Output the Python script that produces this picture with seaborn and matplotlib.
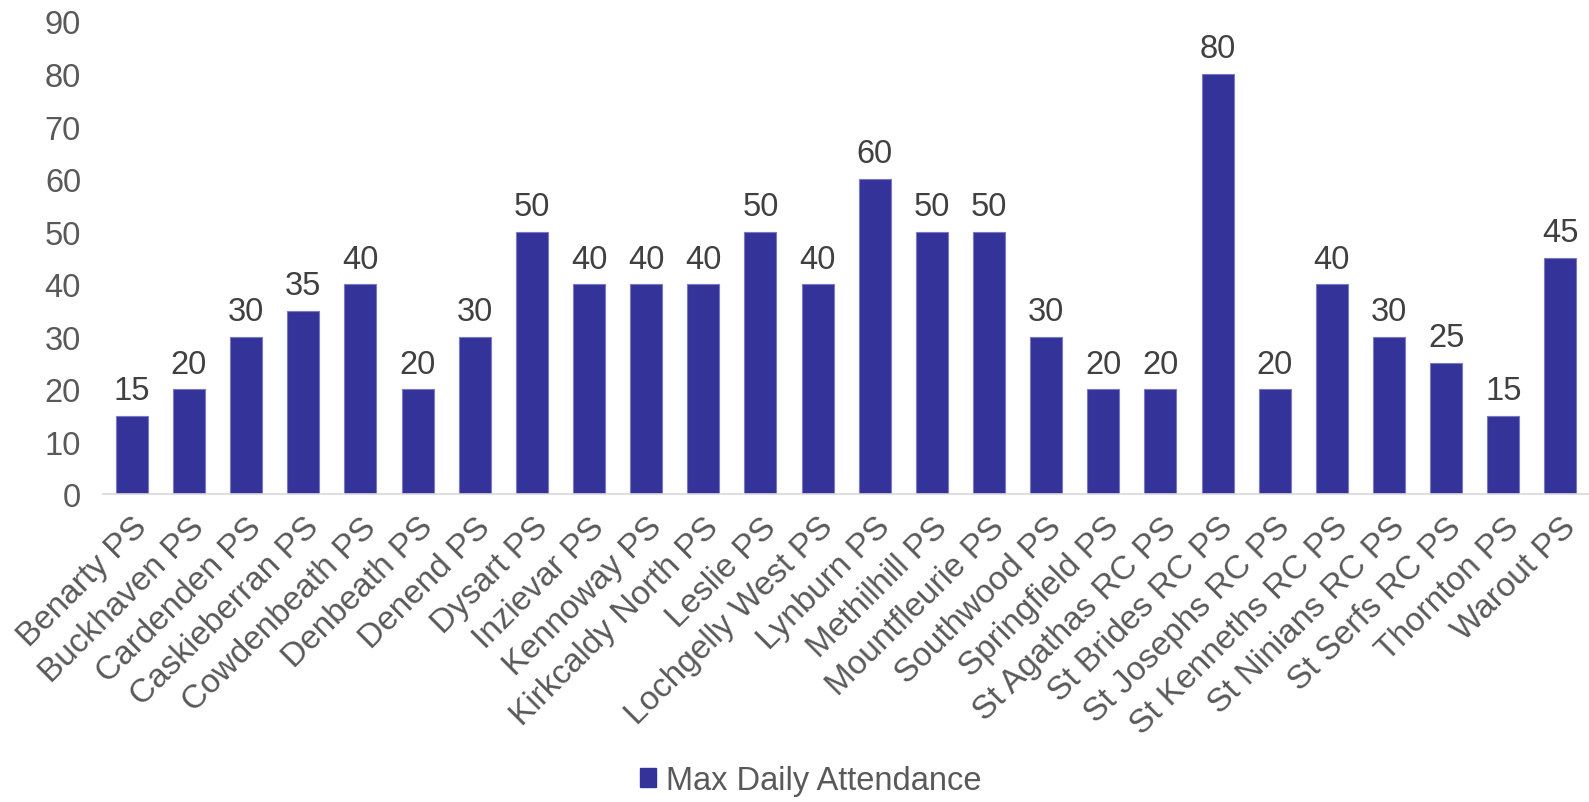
import pandas as pd
import matplotlib.pyplot as plt
import seaborn as sns

# Chart data
schools = ["Benarty PS", "Buckhaven PS", "Cardenden PS", "Caskieberran PS",
           "Cowdenbeath PS", "Denbeath PS", "Denend PS", "Dysart PS",
           "Inzievar PS", "Kennoway PS", "Kirkcaldy North PS", "Leslie PS",
           "Lochgelly West PS", "Lynburn PS", "Methilhill PS", "Mountfleurie PS",
           "Southwood PS", "Springfield PS", "St Agathas RC PS", "St Brides RC PS",
           "St Josephs RC PS", "St Kenneths RC PS", "St Ninians RC PS",
           "St Serfs RC PS", "Thornton PS", "Warout PS"]
attendance = [15, 20, 30, 35, 40, 20, 30, 50, 40, 40, 40, 50, 40, 60, 50, 50,
              30, 20, 20, 80, 20, 40, 30, 25, 15, 45]
series_name = "Max Daily Attendance"
y_ticks = [0, 10, 20, 30, 40, 50, 60, 70, 80, 90]

df = pd.DataFrame({"School": schools, "Value": attendance, "Series": series_name})

sns.set_theme(style="white")
plt.rcParams["font.family"] = ["Liberation Sans", "DejaVu Sans"]

bar_color = "#333399"
fig = plt.figure(figsize=(15.89, 8.03), dpi=100)
ax = fig.add_axes([0.065, 0.383, 0.935, 0.589])

sns.barplot(data=df, x="School", y="Value", hue="Series", palette=[bar_color],
            saturation=1, width=0.56, edgecolor="#7a7ac4", linewidth=0.8,
            ax=ax, legend=False)

# Data labels
for container in ax.containers:
    ax.bar_label(container, labels=[str(v) for v in attendance], padding=7,
                 fontsize=23.5, color="#404040")

ax.set_ylim(0, 90)
ax.set_yticks(y_ticks)
ax.set_xlim(-0.5, len(schools) - 0.5)
ax.set_xlabel("")
ax.set_ylabel("")
ax.tick_params(axis="y", labelsize=23.5, labelcolor="#595959", length=0, pad=16)
ax.tick_params(axis="x", labelsize=24, labelcolor="#595959", length=0, pad=12)
plt.setp(ax.get_xticklabels(), rotation=45, ha="right", rotation_mode="anchor")

for side in ["top", "right", "left"]:
    ax.spines[side].set_visible(False)
ax.spines["bottom"].set_color("#d9d9d9")
ax.spines["bottom"].set_linewidth(1.2)

# Legend at bottom
handle = plt.Rectangle((0, 0), 1, 1, color=bar_color)
fig.legend([handle], [series_name], loc="center", bbox_to_anchor=(0.51, 0.027),
           frameon=False, fontsize=23.5, labelcolor="#595959",
           handlelength=0.5, handleheight=0.5, handletextpad=0.3)

fig.savefig("out.png", dpi=100)
